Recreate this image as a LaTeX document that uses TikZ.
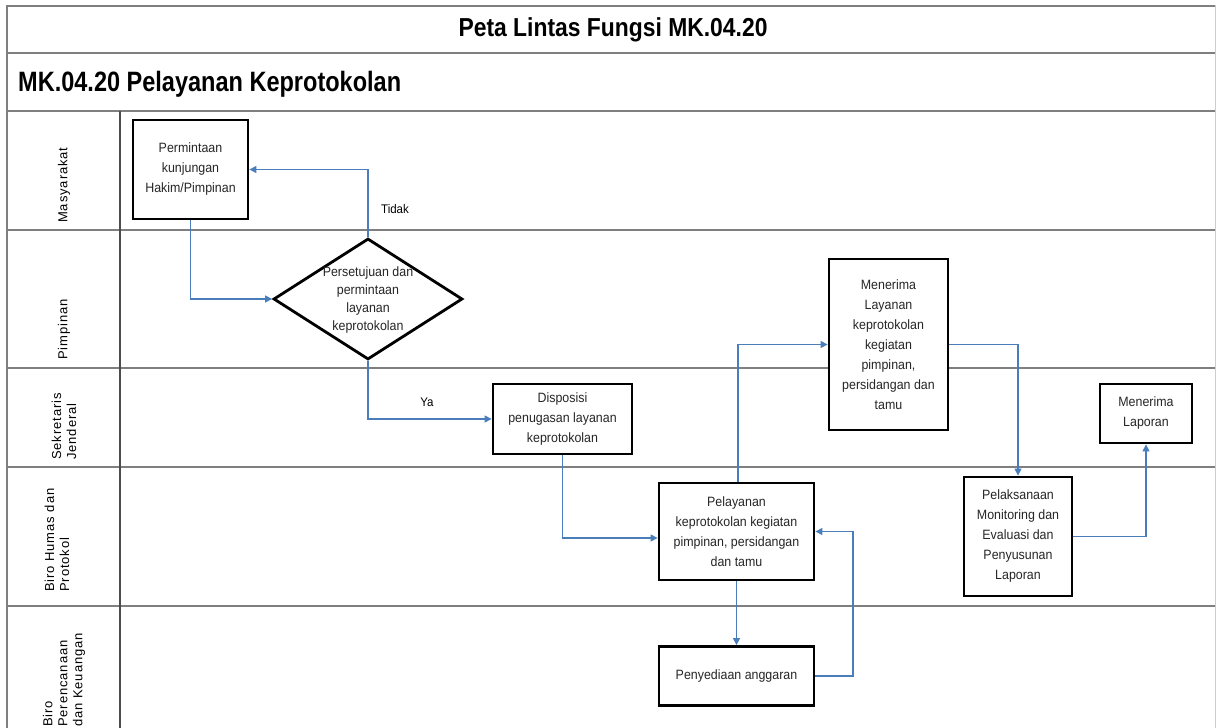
\documentclass[tikz,border=0pt]{standalone}
\usepackage{fontspec}
\usepackage{graphicx}
\setmainfont{Liberation Sans}
\usetikzlibrary{shapes.geometric,arrows.meta,calc}
\definecolor{arrblue}{HTML}{4A7EBB}
\definecolor{frame}{HTML}{7F7F7F}
\definecolor{boxtext}{HTML}{262626}
\begin{document}
\begin{tikzpicture}[x=1pt,y=-1pt,
  procbox/.style={draw=black, line width=2.8pt, fill=white, rectangle, inner sep=0pt,
    align=center, text=boxtext, font=\fontsize{13.5}{20}\selectfont\addfontfeature{FakeStretch=0.92}},
  decbox/.style={draw=black, line width=2.8pt, fill=white, diamond, inner sep=0pt},
  arr/.style={draw=arrblue, line width=1.2pt, -{Triangle[length=7pt,width=7pt]}},
  framel/.style={draw=frame, line width=2pt},
  lanelab/.style={rotate=90, anchor=west, align=left, inner sep=0pt,
    font=\fontsize{13}{15}\selectfont\addfontfeature{LetterSpace=7}},
  smalllab/.style={font=\fontsize{12.5}{14}\selectfont\addfontfeature{FakeStretch=0.92}, inner sep=0pt}]
\useasboundingbox (0,0) rectangle (1216,728);
\fill[white] (0,0) rectangle (1216,728);
% frame
\foreach \yy in {6,53,111,230,368,467,606}{\draw[framel] (7,\yy) -- (1216,\yy);}
\draw[draw=frame, line width=1.5pt] (7,5) -- (7,728);
\draw[draw=gray!40, line width=1pt] (1215,5) -- (1215,728);
\draw[draw=black!70, line width=1.3pt] (120,111) -- (120,728);
% titles
\node[inner sep=0pt, font=\bfseries\fontsize{26}{28}\selectfont] (title) at (613,30) {\scalebox{0.88}[1]{Peta Lintas Fungsi MK.04.20}};
\node[inner sep=0pt, anchor=west, font=\bfseries\fontsize{28}{30}\selectfont] (subtitle) at (18,84) {\scalebox{0.84}[1]{MK.04.20 Pelayanan Keprotokolan}};
% lane labels
\node[lanelab] (l1) at (64,223) {Masyarakat};
\node[lanelab] (l2) at (64,360) {Pimpinan};
\node[lanelab] (l3) at (64,460) {Sekretaris\\Jenderal};
\node[lanelab] (l4) at (57,592) {Biro Humas dan\\Protokol};
\node[lanelab] (l5) at (64,727) {Biro\\Perencanaan\\dan Keuangan};
% process nodes
\node[procbox, minimum width=115pt, minimum height=99pt] (p) at (190.5,169.5) {Permintaan\\kunjungan\\Hakim/Pimpinan};
\node[decbox, minimum width=189pt, minimum height=121pt] (d) at (368,299) {};
\node[inner sep=0pt, align=center, text=boxtext, font=\fontsize{13.5}{18}\selectfont\addfontfeature{FakeStretch=0.92}] (dt) at (368,300) {Persetujuan dan\\permintaan\\layanan\\keprotokolan};
\node[procbox, minimum width=139pt, minimum height=70pt] (disp) at (562.5,419) {Disposisi\\penugasan layanan\\keprotokolan};
\node[procbox, minimum width=119pt, minimum height=171pt] (ml) at (888.5,344.5) {Menerima\\Layanan\\keprotokolan\\kegiatan\\pimpinan,\\persidangan dan\\tamu};
\node[procbox, minimum width=92pt, minimum height=59pt] (lap) at (1146,413.5) {Menerima\\Laporan};
\node[procbox, minimum width=155pt, minimum height=97pt] (pel) at (736.5,531.5) {Pelayanan\\keprotokolan kegiatan\\pimpinan, persidangan\\dan tamu};
\node[procbox, minimum width=108pt, minimum height=119pt] (pk) at (1018,536.5) {Pelaksanaan\\Monitoring dan\\Evaluasi dan\\Penyusunan\\Laporan};
\node[procbox, minimum width=155pt, minimum height=59pt] (peny) at (736.5,676) {Penyediaan anggaran};
% connectors
\draw[arr] (p.south) |- (d.west);
\draw[arr] (d.north) |- (p.east);
\node[smalllab] (tidak) at (395,209) {Tidak};
\draw[arr] (d.south) |- (disp.west);
\node[smalllab] (ya) at (427,402) {Ya};
\draw[arr] (disp.south) |- ([yshift=-6.5pt]pel.west);
\draw[arr] ([xshift=1.5pt]pel.north) |- (ml.west);
\draw[arr] (ml.east) -| (pk.north);
\draw[arr] (pk.east) -| (lap.south);
\draw[arr] (pel.south) -- (peny.north);
\coordinate (rx) at (853,0);
\draw[arr] (peny.east) -- (peny.east -| rx) |- (pel.east);
\end{tikzpicture}
\end{document}
